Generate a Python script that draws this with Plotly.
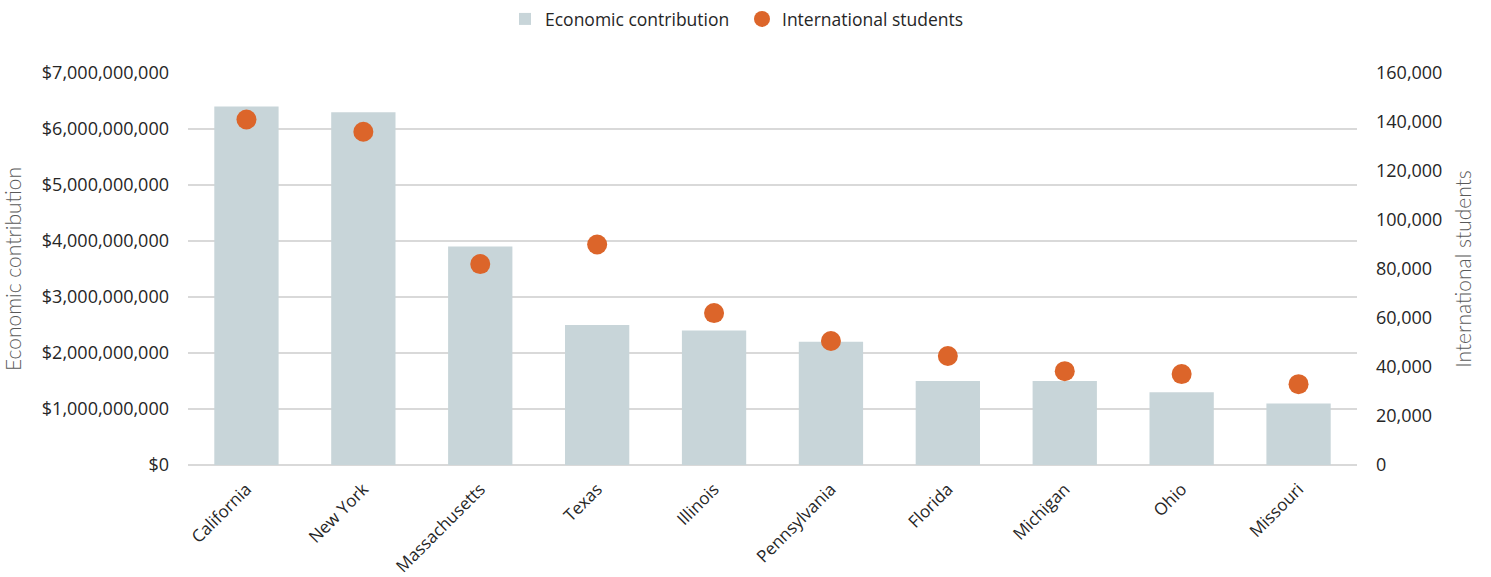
import plotly.graph_objects as go

# States ranked by economic contribution of international students
states = ["California", "New York", "Massachusetts", "Texas", "Illinois",
          "Pennsylvania", "Florida", "Michigan", "Ohio", "Missouri"]
economic_contribution = [6.4e9, 6.3e9, 3.9e9, 2.5e9, 2.4e9,
                         2.2e9, 1.5e9, 1.5e9, 1.3e9, 1.1e9]
international_students = [141000, 136000, 82000, 90000, 62000,
                          50600, 44500, 38300, 37100, 33000]

BAR_COLOR = "#c8d5d9"
DOT_COLOR = "#dc652a"
GRID_COLOR = "#d9d9d9"
TICK_FONT = dict(family="Open Sans", size=18, color="#262626")
TITLE_FONT = dict(family="Lato", size=21, color="#595959", weight=300)

fig = go.Figure()
fig.add_trace(go.Bar(
    x=states, y=economic_contribution, name="Economic contribution",
    marker=dict(color=BAR_COLOR, line=dict(width=0)), yaxis="y",
))
fig.add_trace(go.Scatter(
    x=states, y=international_students, name="International students",
    mode="markers", marker=dict(color=DOT_COLOR, size=20), yaxis="y2",
))

fig.update_layout(
    width=1491, height=577,
    margin=dict(l=188, r=134, t=73, b=112),
    paper_bgcolor="white", plot_bgcolor="white",
    bargap=0.45,
    showlegend=True,
    legend=dict(orientation="h", x=(505 - 188) / 1169, xanchor="left",
                yref="container", y=0.967, yanchor="middle",
                font=dict(family="Open Sans", size=17.5, color="#262626"),
                entrywidth=192, entrywidthmode="pixels", tracegroupgap=0),
    xaxis=dict(range=[-0.5, len(states) - 0.5], tickangle=-45,
               tickfont=dict(family="Open Sans", size=17, color="#262626"),
               showgrid=False, showline=False, ticks="", automargin=False,
               ticklabelstandoff=10),
    yaxis=dict(range=[0, 7e9], dtick=1e9, tickprefix="$", tickformat=",",
               tickfont=TICK_FONT, showgrid=True, gridcolor=GRID_COLOR, gridwidth=2,
               zeroline=True, zerolinecolor=GRID_COLOR, zerolinewidth=2,
               ticks="", ticklabelstandoff=18, automargin=False,
               title=dict(text="Economic contribution", font=TITLE_FONT, standoff=14)),
    yaxis2=dict(range=[0, 160000], dtick=20000, tickformat=",", overlaying="y",
                side="right", tickfont=TICK_FONT, showgrid=False, zeroline=False,
                ticks="", ticklabelstandoff=18, automargin=False,
                title=dict(text="International students", font=TITLE_FONT, standoff=14)),
)

fig.write_html("out.html")
